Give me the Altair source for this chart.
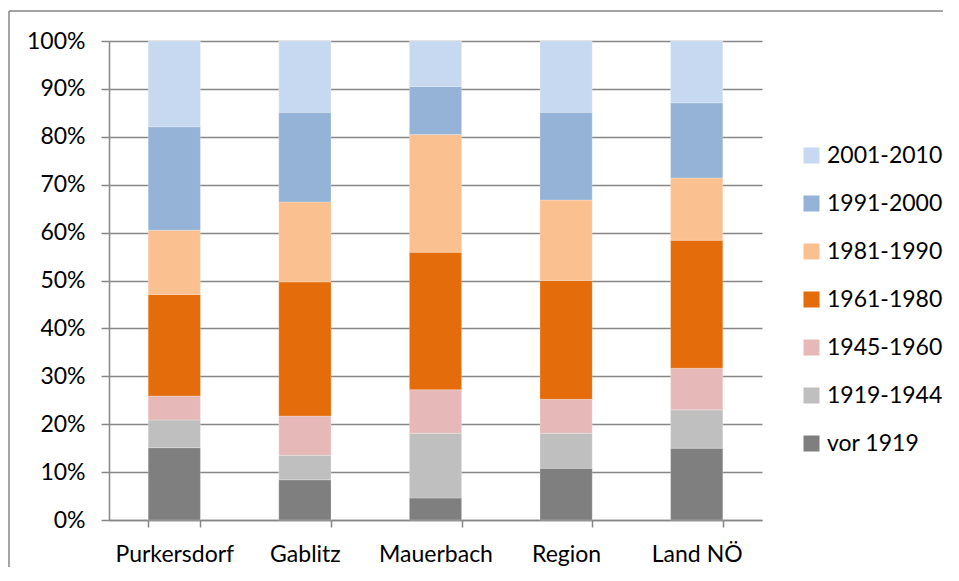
import altair as alt
import pandas as pd

regions = ["Purkersdorf", "Gablitz", "Mauerbach", "Region", "Land NÖ"]
periods = ["vor 1919", "1919-1944", "1945-1960", "1961-1980", "1981-1990", "1991-2000", "2001-2010"]
colors = ["#7F7F7F", "#BFBFBF", "#E6B9B8", "#E46C0A", "#FAC090", "#95B3D7", "#C6D9F1"]

# shares in % per period (rows follow `periods`), columns follow `regions`
vor_1919   = [15.1, 8.4, 4.6, 10.8, 15.0]
p1919_1944 = [5.8, 5.1, 13.5, 7.3, 8.0]
p1945_1960 = [5.0, 8.2, 9.1, 7.1, 8.7]
p1961_1980 = [21.2, 28.0, 28.7, 24.8, 26.7]
p1981_1990 = [13.4, 16.7, 24.6, 16.8, 13.0]
p1991_2000 = [21.6, 18.7, 10.0, 18.3, 15.7]
p2001_2010 = [17.9, 14.9, 9.5, 14.9, 12.9]

series = [vor_1919, p1919_1944, p1945_1960, p1961_1980, p1981_1990, p1991_2000, p2001_2010]

rows = []
for i, (per, vals) in enumerate(zip(periods, series)):
    for reg, v in zip(regions, vals):
        rows.append({"Region": reg, "Periode": per, "Anteil": v, "ord": i})
df = pd.DataFrame(rows)

FONT = "Lato"

bars = alt.Chart(df).mark_bar(stroke="white", strokeWidth=0.4, strokeOpacity=0.6).encode(
    x=alt.X("Region:N", sort=regions, title=None,
            scale=alt.Scale(paddingInner=0.6, paddingOuter=0.3),
            axis=alt.Axis(labelAngle=0, tickBand="extent", ticks=True, tickSize=7,
                          tickColor="#868686", tickWidth=1.5, domainColor="#868686",
                          domainWidth=1.5, labelPadding=16, grid=False)),
    y=alt.Y("Anteil:Q", stack="normalize", title=None,
            scale=alt.Scale(domain=[0, 1], nice=False),
            axis=alt.Axis(format=".0%", values=[i / 10 for i in range(11)], tickSize=8,
                          tickColor="#868686", tickWidth=1.5, domainColor="#868686",
                          domainWidth=1.5, labelPadding=16, grid=True,
                          gridColor="#868686", gridWidth=1.5)),
    color=alt.Color("Periode:N",
                    scale=alt.Scale(domain=periods[::-1], range=colors[::-1]),
                    legend=alt.Legend(title=None, orient="none", legendX=691, legendY=103,
                                      symbolType="square", symbolSize=256,
                                      symbolStrokeWidth=0, rowPadding=24,
                                      labelFontSize=23, labelFont=FONT, labelColor="black",
                                      labelOffset=4)),
    order=alt.Order("ord:Q", sort="ascending"),
)

one = pd.DataFrame({"k": [0]})
border_top = alt.Chart(one).mark_rule(color="#868686", strokeWidth=1.5).encode(
    x=alt.value(-100), x2=alt.value(834), y=alt.value(-30), y2=alt.value(-30)
)
border_left = alt.Chart(one).mark_rule(color="#868686", strokeWidth=1.5).encode(
    x=alt.value(-100), x2=alt.value(-100), y=alt.value(-30), y2=alt.value(526)
)

chart = alt.layer(bars, border_top, border_left).properties(
    width=653, height=479,
    padding={"left": 101, "top": 33, "right": 185, "bottom": 47},
    autosize=alt.AutoSizeParams(type="none"),
).configure_view(stroke=None).configure_axis(
    labelFont=FONT, labelFontSize=23, labelColor="black"
)

chart.save("out.html", embed_options={"renderer": "svg", "actions": False})
